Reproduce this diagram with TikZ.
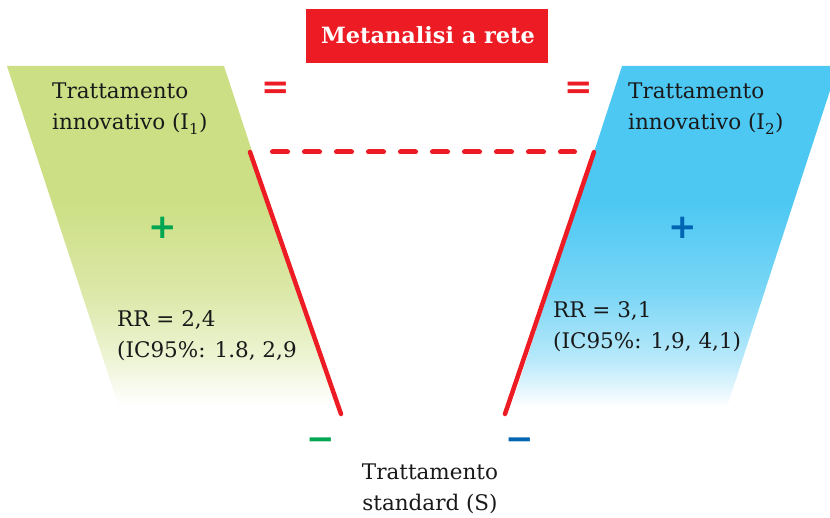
\documentclass[tikz,border=0pt]{standalone}
\usepackage{fontspec}
\setmainfont{DejaVu Serif}
\newfontfamily\symfont{DejaVu Sans}
\definecolor{gfill}{RGB}{205,223,133}
\definecolor{bfill}{RGB}{77,200,243}
\definecolor{redc}{RGB}{237,28,36}
\definecolor{greenc}{RGB}{0,166,81}
\definecolor{bluec}{RGB}{0,102,179}
\pgfdeclareverticalshading{greenfade}{100bp}{color(0bp)=(white); color(25bp)=(white); color(26bp)=(gfill!4); color(32bp)=(gfill!35); color(42bp)=(gfill!72); color(55bp)=(gfill); color(100bp)=(gfill)}
\pgfdeclareverticalshading{bluefade}{100bp}{color(0bp)=(white); color(25bp)=(white); color(26bp)=(bfill!6); color(32bp)=(bfill!40); color(42bp)=(bfill!75); color(55bp)=(bfill); color(100bp)=(bfill)}
\tikzset{
  lbl/.style={font=\fontsize{21.5}{24}\selectfont, inner sep=0pt, anchor=base west, text=black!90},
  sym/.style={font=\symfont\bfseries\fontsize{34}{34}\selectfont, inner sep=0pt},
  redline/.style={draw=redc, line width=4.5pt, line cap=round},
}
\begin{document}
\begin{tikzpicture}[x=1pt,y=-1pt]
\useasboundingbox (0,0) rectangle (830,518);
% parallelograms
\shade[shading=greenfade] (7,66) -- (224,66) -- (336,407) -- (119,407) -- cycle;
\shade[shading=bluefade] (622,66) -- (838,66) -- (727,407) -- (511,407) -- cycle;
% title
\fill[redc] (306,9) rectangle (548,63);
\node[font=\bfseries\fontsize{22.4}{24}\selectfont, text=white, inner sep=0pt, anchor=base] (title) at (428,44) {Metanalisi a rete};
% labels
\node[lbl] (l1a) at (52,99) {Trattamento};
\node[lbl] (l1b) at (52,130) {innovativo (I\textsubscript{1})};
\node[lbl] (l2a) at (628,99) {Trattamento};
\node[lbl] (l2b) at (628,130) {innovativo (I\textsubscript{2})};
\node[lbl] (r1a) at (117,327) {RR = 2,4};
\node[lbl] (r1b) at (117,358) {(IC95\%: 1.8, 2,9};
\node[lbl] (r2a) at (553,318) {RR = 3,1};
\node[lbl] (r2b) at (553,349) {(IC95\%: 1,9, 4,1)};
\node[lbl, anchor=base] (sa) at (430,479) {Trattamento};
\node[lbl, anchor=base] (sb) at (430,510) {standard (S)};
% symbols
\node[sym, text=redc] (eq1) at (276,90) {=};
\node[sym, text=redc] (eq2) at (579,90) {=};
\node[sym, text=greenc] (p1) at (163,228) {+};
\node[sym, text=bluec] (p2) at (683,228) {+};
\node[sym, text=greenc] (m1) at (321,444) {−};
\node[sym, text=bluec] (m2) at (520,444) {−};
% connectors
\coordinate (a1) at (250,152);
\coordinate (a2) at (594,152);
\coordinate (b1) at (341,414);
\coordinate (b2) at (505,414);
\draw[redline] (a1) -- (b1);
\draw[redline] (a2) -- (b2);
\draw[redline, line width=5pt, dash pattern=on 15pt off 17pt, shorten <=22.5pt, shorten >=19.5pt] (a1) -- (a2);
\end{tikzpicture}
\end{document}
